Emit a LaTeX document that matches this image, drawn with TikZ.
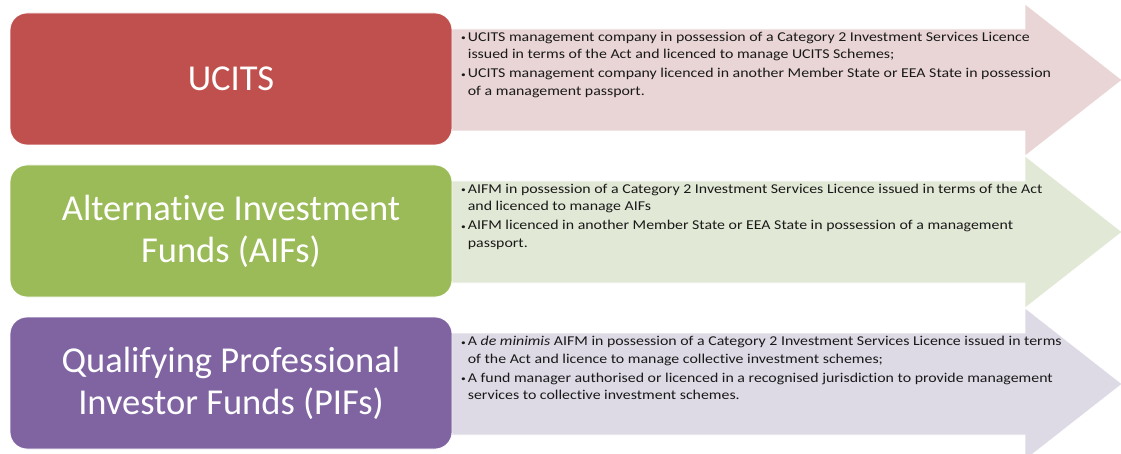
\documentclass[tikz,border=0pt]{standalone}
\usepackage{fontspec}
\setmainfont[Ligatures={NoCommon,NoContextual},RawFeature={-calt}]{Carlito}
\newfontfamily\bodyfont[FakeStretch=1.175,Ligatures={NoCommon,NoContextual},RawFeature={-calt}]{Carlito}
\definecolor{ured}{HTML}{C0504D}
\definecolor{agreen}{HTML}{9BBB59}
\definecolor{qpurple}{HTML}{8064A2}
\definecolor{ulight}{HTML}{E9D5D5}
\definecolor{alight}{HTML}{E1E9D6}
\definecolor{qlight}{HTML}{DDDAE5}
\begin{document}
\begin{tikzpicture}[x=1pt,y=-1pt,
  catbox/.style={draw=white,line width=0.8pt,rounded corners=17pt,minimum width=442pt,minimum height=132pt,
    text=white,align=center,font=\fontsize{36.5}{42}\selectfont,inner sep=0pt},
  arrowshape/.style={draw=white,line width=0.6pt},
  bullettext/.style={anchor=base west,inner sep=0pt,align=left,text=black!90,font=\bodyfont\fontsize{13.5}{17.5}\selectfont}]
\useasboundingbox (0,0) rectangle (1121,454);
% arrows
\foreach \c/\col in {80/ulight,232/alight,384/qlight}{
  \fill[\col,arrowshape] (450,\c-51) -- (1025,\c-51) -- (1025,\c-76) -- (1122,\c) -- (1025,\c+76) -- (1025,\c+51) -- (450,\c+51) -- cycle;
}
% category boxes
\node[catbox,fill=ured] (ucits) at (231,79) {UCITS};
\node[catbox,fill=agreen] (aif) at (231,231) {Alternative Investment\\Funds (AIFs)};
\node[catbox,fill=qpurple] (pif) at (231,383) {Qualifying Professional\\Investor Funds (PIFs)};
% texts
\newcommand{\bl}{\raisebox{0.5pt}{\fontsize{8}{8}\selectfont•}}
\node[bullettext] (t1) at (461,41.5) {\begin{tabular}[t]{@{}l@{\hspace{2pt}}l@{}}
\bl & UCITS management company in possession of a Category 2 Investment Services Licence\\
 & issued in terms of the Act and licenced to manage UCITS Schemes;\\[1.5pt]
\bl & UCITS management company licenced in another Member State or EEA State in possession\\
 & of a management passport.
\end{tabular}};
\node[bullettext] (t2) at (461,193.5) {\begin{tabular}[t]{@{}l@{\hspace{2pt}}l@{}}
\bl & AIFM in possession of a Category 2 Investment Services Licence issued in terms of the Act\\
 & and licenced to manage AIFs\\[1.5pt]
\bl & AIFM licenced in another Member State or EEA State in possession of a management\\
 & passport.
\end{tabular}};
\node[bullettext] (t3) at (461,345.5) {\begin{tabular}[t]{@{}l@{\hspace{2pt}}l@{}}
\bl & A \textit{de minimis} AIFM in possession of a Category 2 Investment Services Licence issued in terms\\
 & of the Act and licence to manage collective investment schemes;\\[1.5pt]
\bl & A fund manager authorised or licenced in a recognised jurisdiction to provide management\\
 & services to collective investment schemes.
\end{tabular}};
\end{tikzpicture}
\end{document}
